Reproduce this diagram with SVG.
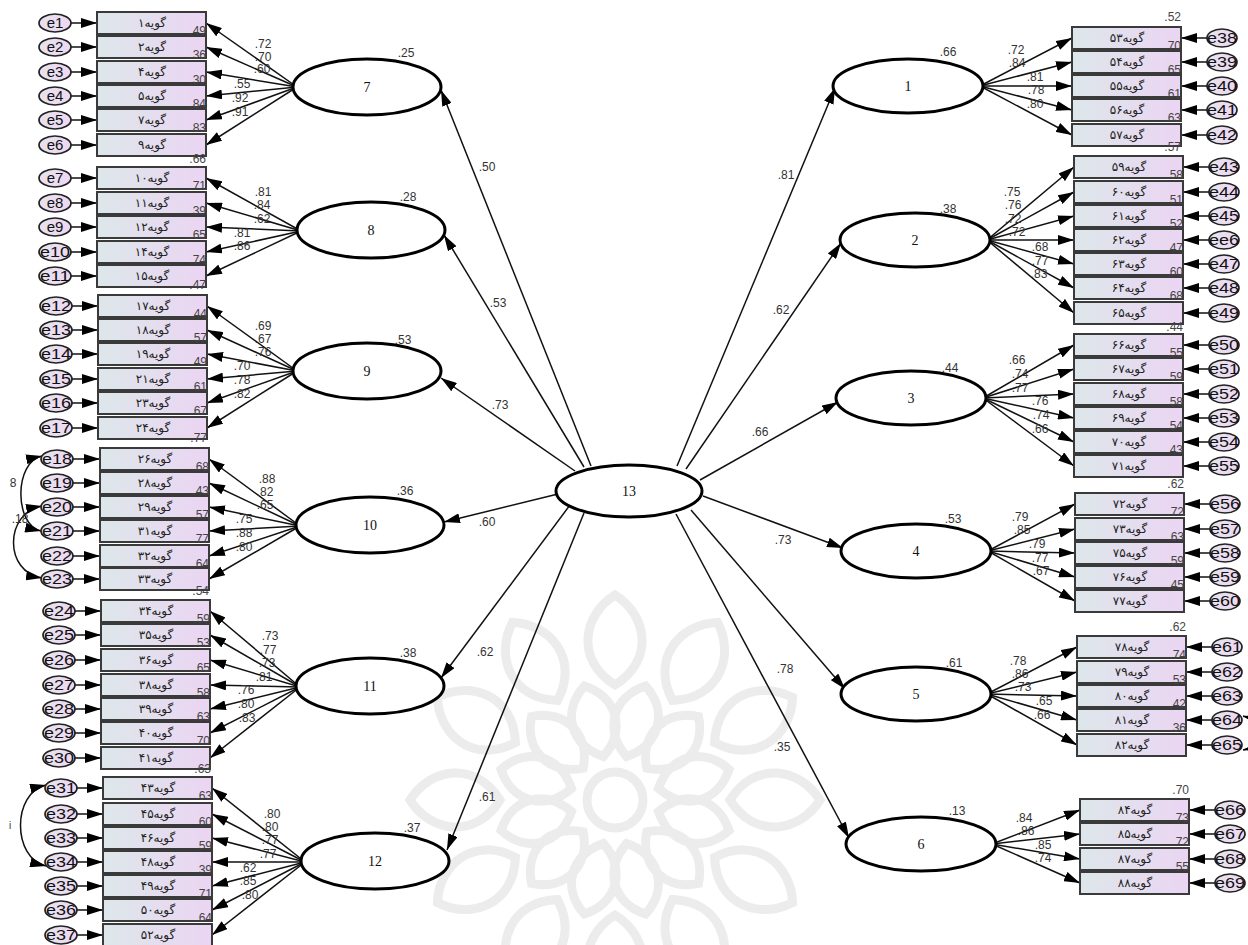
<svg xmlns="http://www.w3.org/2000/svg" xmlns:xlink="http://www.w3.org/1999/xlink" width="1248" height="945" viewBox="0 0 1248 945">
<style>
.box{fill:url(#gb);stroke:#3a3a3a;stroke-width:2}
.err{fill:url(#ge);stroke:#222;stroke-width:1.7}
.lat{fill:#fff;stroke:#000;stroke-width:3}
.ln{stroke:#111;stroke-width:1.5;fill:none;marker-end:url(#ah)}
.cv{stroke:#111;stroke-width:1.5;fill:none;marker-end:url(#ah2);marker-start:url(#ah2)}
.t{font-family:"DejaVu Sans",sans-serif;font-size:12px;text-anchor:middle;fill:#222}
.n{font-family:"Liberation Sans",Arial,sans-serif;font-size:12px;text-anchor:middle;fill:#333}
.r{font-family:"Liberation Sans",Arial,sans-serif;font-size:12px;text-anchor:end;fill:#444}
.el{font-family:"Liberation Sans",Arial,sans-serif;font-size:15px;text-anchor:middle;fill:#111}
.lv{font-family:"Liberation Serif","Times New Roman",serif;font-size:14px;text-anchor:middle;fill:#111}
.wm{fill:none;stroke:#ececec;stroke-width:9}
</style>
<defs>
<linearGradient id="gb" x1="0" y1="0" x2="1" y2="0"><stop offset="0" stop-color="#dde7ea"/><stop offset="1" stop-color="#ebd5f3"/></linearGradient>
<linearGradient id="ge" x1="0" y1="0" x2="1" y2="0"><stop offset="0" stop-color="#e6e3ee"/><stop offset="1" stop-color="#eed8f2"/></linearGradient>
<marker id="ah" viewBox="0 0 16 10" refX="16" refY="5" markerWidth="16" markerHeight="10" markerUnits="userSpaceOnUse" orient="auto"><path d="M0,0 L16,5 L0,10 z" fill="#000"/></marker>
<marker id="ah2" viewBox="0 0 16 10" refX="16" refY="5" markerWidth="16" markerHeight="10" markerUnits="userSpaceOnUse" orient="auto-start-reverse"><path d="M0,0 L16,5 L0,10 z" fill="#000"/></marker>
<path id="p1" d="M0,-115 C40,-140 32,-185 0,-205 C-32,-185 -40,-140 0,-115 Z"/>
<path id="p2" d="M0,-45 C30,-65 28,-100 0,-118 C-28,-100 -30,-65 0,-45 Z"/>
</defs>
<rect width="1248" height="945" fill="#fff"/>
<g id="watermark" class="wm" transform="translate(615,800)">
<use xlink:href="#p1"/><use xlink:href="#p1" transform="rotate(30)"/><use xlink:href="#p1" transform="rotate(60)"/><use xlink:href="#p1" transform="rotate(90)"/><use xlink:href="#p1" transform="rotate(120)"/><use xlink:href="#p1" transform="rotate(150)"/><use xlink:href="#p1" transform="rotate(180)"/><use xlink:href="#p1" transform="rotate(210)"/><use xlink:href="#p1" transform="rotate(240)"/><use xlink:href="#p1" transform="rotate(270)"/><use xlink:href="#p1" transform="rotate(300)"/><use xlink:href="#p1" transform="rotate(330)"/>
<use xlink:href="#p2" transform="rotate(15)"/><use xlink:href="#p2" transform="rotate(45)"/><use xlink:href="#p2" transform="rotate(75)"/><use xlink:href="#p2" transform="rotate(105)"/><use xlink:href="#p2" transform="rotate(135)"/><use xlink:href="#p2" transform="rotate(165)"/><use xlink:href="#p2" transform="rotate(195)"/><use xlink:href="#p2" transform="rotate(225)"/><use xlink:href="#p2" transform="rotate(255)"/><use xlink:href="#p2" transform="rotate(285)"/><use xlink:href="#p2" transform="rotate(315)"/><use xlink:href="#p2" transform="rotate(345)"/>
<circle r="28"/>
</g>
<g id="connectors">
<line class="ln" x1="591" y1="466" x2="441" y2="90"/>
<line class="ln" x1="584" y1="467" x2="444" y2="235"/>
<line class="ln" x1="575" y1="471" x2="441" y2="378"/>
<line class="ln" x1="558" y1="494" x2="444" y2="522"/>
<line class="ln" x1="570" y1="505" x2="441" y2="678"/>
<line class="ln" x1="584" y1="513" x2="447" y2="850"/>
<line class="ln" x1="677" y1="466" x2="835" y2="88"/>
<line class="ln" x1="686" y1="469" x2="841" y2="243"/>
<line class="ln" x1="700" y1="480" x2="838" y2="402"/>
<line class="ln" x1="703" y1="496" x2="843" y2="548"/>
<line class="ln" x1="691" y1="510" x2="845" y2="689"/>
<line class="ln" x1="676" y1="514" x2="849" y2="838"/>
<text class="n" x="487" y="171">.50</text>
<text class="n" x="498" y="307">.53</text>
<text class="n" x="500" y="409">.73</text>
<text class="n" x="487" y="526">.60</text>
<text class="n" x="485" y="656">.62</text>
<text class="n" x="487" y="801">.61</text>
<text class="n" x="786" y="179">.81</text>
<text class="n" x="781" y="314">.62</text>
<text class="n" x="760" y="436">.66</text>
<text class="n" x="783" y="544">.73</text>
<text class="n" x="785" y="673">.78</text>
<text class="n" x="782" y="751">.35</text>
<line class="ln" x1="297" y1="87" x2="206" y2="23"/>
<line class="ln" x1="297" y1="87" x2="206" y2="47"/>
<line class="ln" x1="297" y1="87" x2="206" y2="72"/>
<line class="ln" x1="297" y1="87" x2="206" y2="96"/>
<line class="ln" x1="297" y1="87" x2="206" y2="120"/>
<line class="ln" x1="297" y1="87" x2="206" y2="145"/>
<text class="n" x="263" y="48">.72</text><text class="n" x="263" y="61">.70</text><text class="n" x="262" y="73">.60</text><text class="n" x="242" y="88">.55</text><text class="n" x="240" y="102">.92</text><text class="n" x="240" y="116">.91</text>
<line class="ln" x1="301" y1="231" x2="206" y2="178"/>
<line class="ln" x1="301" y1="231" x2="206" y2="203"/>
<line class="ln" x1="301" y1="231" x2="206" y2="227"/>
<line class="ln" x1="301" y1="231" x2="206" y2="252"/>
<line class="ln" x1="301" y1="231" x2="206" y2="276"/>
<text class="n" x="263" y="196">.81</text><text class="n" x="262" y="209">.84</text><text class="n" x="262" y="223">.62</text><text class="n" x="242" y="237">.81</text><text class="n" x="242" y="250">.86</text>
<line class="ln" x1="297" y1="371" x2="207" y2="306"/>
<line class="ln" x1="297" y1="371" x2="207" y2="330"/>
<line class="ln" x1="297" y1="371" x2="207" y2="354"/>
<line class="ln" x1="297" y1="371" x2="207" y2="379"/>
<line class="ln" x1="297" y1="371" x2="207" y2="403"/>
<line class="ln" x1="297" y1="371" x2="207" y2="428"/>
<text class="n" x="263" y="330">.69</text><text class="n" x="263" y="343">.67</text><text class="n" x="263" y="356">.76</text><text class="n" x="242" y="370">.70</text><text class="n" x="242" y="384">.78</text><text class="n" x="242" y="398">.82</text>
<line class="ln" x1="300" y1="526" x2="209" y2="459"/>
<line class="ln" x1="300" y1="526" x2="209" y2="483"/>
<line class="ln" x1="300" y1="526" x2="209" y2="507"/>
<line class="ln" x1="300" y1="526" x2="209" y2="531"/>
<line class="ln" x1="300" y1="526" x2="209" y2="556"/>
<line class="ln" x1="300" y1="526" x2="209" y2="579"/>
<text class="n" x="267" y="483">.88</text><text class="n" x="265" y="496">.82</text><text class="n" x="265" y="509">.65</text><text class="n" x="244" y="523">.75</text><text class="n" x="244" y="537">.88</text><text class="n" x="244" y="551">.80</text>
<line class="ln" x1="300" y1="687" x2="210" y2="611"/>
<line class="ln" x1="300" y1="687" x2="210" y2="635"/>
<line class="ln" x1="300" y1="687" x2="210" y2="660"/>
<line class="ln" x1="300" y1="687" x2="210" y2="685"/>
<line class="ln" x1="300" y1="687" x2="210" y2="709"/>
<line class="ln" x1="300" y1="687" x2="210" y2="733"/>
<line class="ln" x1="300" y1="687" x2="210" y2="758"/>
<text class="n" x="270" y="640">.73</text><text class="n" x="268" y="654">.77</text><text class="n" x="267" y="667">.73</text><text class="n" x="264" y="681">.81</text><text class="n" x="246" y="694">.76</text><text class="n" x="246" y="708">.80</text><text class="n" x="247" y="722">.83</text>
<line class="ln" x1="305" y1="862" x2="212" y2="788"/>
<line class="ln" x1="305" y1="862" x2="212" y2="814"/>
<line class="ln" x1="305" y1="862" x2="212" y2="838"/>
<line class="ln" x1="305" y1="862" x2="212" y2="862"/>
<line class="ln" x1="305" y1="862" x2="212" y2="886"/>
<line class="ln" x1="305" y1="862" x2="212" y2="910"/>
<line class="ln" x1="305" y1="862" x2="212" y2="935"/>
<text class="n" x="272" y="818">.80</text><text class="n" x="270" y="831">.80</text><text class="n" x="270" y="844">.77</text><text class="n" x="268" y="858">.77</text><text class="n" x="248" y="872">.62</text><text class="n" x="248" y="885">.85</text><text class="n" x="250" y="899">.80</text>
<line class="ln" x1="980" y1="86" x2="1072" y2="38"/>
<line class="ln" x1="980" y1="86" x2="1072" y2="62"/>
<line class="ln" x1="980" y1="86" x2="1072" y2="86"/>
<line class="ln" x1="980" y1="86" x2="1072" y2="110"/>
<line class="ln" x1="980" y1="86" x2="1072" y2="135"/>
<text class="n" x="1016" y="54">.72</text><text class="n" x="1017" y="67">.84</text><text class="n" x="1035" y="81">.81</text><text class="n" x="1036" y="94">.78</text><text class="n" x="1035" y="108">.80</text>
<line class="ln" x1="987" y1="240" x2="1074" y2="167"/>
<line class="ln" x1="987" y1="240" x2="1074" y2="192"/>
<line class="ln" x1="987" y1="240" x2="1074" y2="216"/>
<line class="ln" x1="987" y1="240" x2="1074" y2="240"/>
<line class="ln" x1="987" y1="240" x2="1074" y2="264"/>
<line class="ln" x1="987" y1="240" x2="1074" y2="288"/>
<line class="ln" x1="987" y1="240" x2="1074" y2="313"/>
<text class="n" x="1012" y="196">.75</text><text class="n" x="1013" y="209">.76</text><text class="n" x="1013" y="223">.72</text><text class="n" x="1017" y="236">.72</text><text class="n" x="1040" y="251">.68</text><text class="n" x="1040" y="265">.77</text><text class="n" x="1039" y="278">.83</text>
<line class="ln" x1="983" y1="398" x2="1074" y2="345"/>
<line class="ln" x1="983" y1="398" x2="1074" y2="369"/>
<line class="ln" x1="983" y1="398" x2="1074" y2="394"/>
<line class="ln" x1="983" y1="398" x2="1074" y2="418"/>
<line class="ln" x1="983" y1="398" x2="1074" y2="442"/>
<line class="ln" x1="983" y1="398" x2="1074" y2="466"/>
<text class="n" x="1017" y="364">.66</text><text class="n" x="1020" y="378">.74</text><text class="n" x="1020" y="392">.77</text><text class="n" x="1040" y="405">.76</text><text class="n" x="1041" y="419">.74</text><text class="n" x="1040" y="433">.66</text>
<line class="ln" x1="988" y1="551" x2="1075" y2="504"/>
<line class="ln" x1="988" y1="551" x2="1075" y2="529"/>
<line class="ln" x1="988" y1="551" x2="1075" y2="553"/>
<line class="ln" x1="988" y1="551" x2="1075" y2="577"/>
<line class="ln" x1="988" y1="551" x2="1075" y2="601"/>
<text class="n" x="1020" y="521">.79</text><text class="n" x="1022" y="534">.85</text><text class="n" x="1037" y="548">.79</text><text class="n" x="1040" y="562">.77</text><text class="n" x="1041" y="575">.67</text>
<line class="ln" x1="987" y1="694" x2="1077" y2="647"/>
<line class="ln" x1="987" y1="694" x2="1077" y2="672"/>
<line class="ln" x1="987" y1="694" x2="1077" y2="696"/>
<line class="ln" x1="987" y1="694" x2="1077" y2="720"/>
<line class="ln" x1="987" y1="694" x2="1077" y2="745"/>
<text class="n" x="1018" y="665">.78</text><text class="n" x="1020" y="678">.86</text><text class="n" x="1023" y="691">.73</text><text class="n" x="1044" y="705">.65</text><text class="n" x="1042" y="719">.66</text>
<line class="ln" x1="992" y1="844" x2="1080" y2="810"/>
<line class="ln" x1="992" y1="844" x2="1080" y2="834"/>
<line class="ln" x1="992" y1="844" x2="1080" y2="859"/>
<line class="ln" x1="992" y1="844" x2="1080" y2="883"/>
<text class="n" x="1024" y="822">.84</text><text class="n" x="1026" y="835">.86</text><text class="n" x="1043" y="849">.85</text><text class="n" x="1043" y="862">.74</text>
<line class="ln" x1="71" y1="23" x2="97" y2="23"/><line class="ln" x1="71" y1="47" x2="97" y2="47"/><line class="ln" x1="71" y1="72" x2="97" y2="72"/><line class="ln" x1="71" y1="96" x2="97" y2="96"/><line class="ln" x1="71" y1="120" x2="97" y2="120"/><line class="ln" x1="71" y1="145" x2="97" y2="145"/>
<line class="ln" x1="71" y1="178" x2="97" y2="178"/><line class="ln" x1="71" y1="203" x2="97" y2="203"/><line class="ln" x1="71" y1="227" x2="97" y2="227"/><line class="ln" x1="71" y1="252" x2="97" y2="252"/><line class="ln" x1="71" y1="276" x2="97" y2="276"/>
<line class="ln" x1="72" y1="306" x2="98" y2="306"/><line class="ln" x1="72" y1="330" x2="98" y2="330"/><line class="ln" x1="72" y1="354" x2="98" y2="354"/><line class="ln" x1="72" y1="379" x2="98" y2="379"/><line class="ln" x1="72" y1="403" x2="98" y2="403"/><line class="ln" x1="72" y1="428" x2="98" y2="428"/>
<line class="ln" x1="73" y1="459" x2="100" y2="459"/><line class="ln" x1="73" y1="483" x2="100" y2="483"/><line class="ln" x1="73" y1="507" x2="100" y2="507"/><line class="ln" x1="73" y1="531" x2="100" y2="531"/><line class="ln" x1="73" y1="556" x2="100" y2="556"/><line class="ln" x1="73" y1="579" x2="100" y2="579"/>
<line class="ln" x1="75" y1="611" x2="101" y2="611"/><line class="ln" x1="75" y1="635" x2="101" y2="635"/><line class="ln" x1="75" y1="660" x2="101" y2="660"/><line class="ln" x1="75" y1="685" x2="101" y2="685"/><line class="ln" x1="75" y1="709" x2="101" y2="709"/><line class="ln" x1="75" y1="733" x2="101" y2="733"/><line class="ln" x1="75" y1="758" x2="101" y2="758"/>
<line class="ln" x1="77" y1="788" x2="103" y2="788"/><line class="ln" x1="77" y1="814" x2="103" y2="814"/><line class="ln" x1="77" y1="838" x2="103" y2="838"/><line class="ln" x1="77" y1="862" x2="103" y2="862"/><line class="ln" x1="77" y1="886" x2="103" y2="886"/><line class="ln" x1="77" y1="910" x2="103" y2="910"/><line class="ln" x1="77" y1="935" x2="103" y2="935"/>
<line class="ln" x1="1207" y1="38" x2="1181" y2="38"/><line class="ln" x1="1207" y1="62" x2="1181" y2="62"/><line class="ln" x1="1207" y1="86" x2="1181" y2="86"/><line class="ln" x1="1207" y1="110" x2="1181" y2="110"/><line class="ln" x1="1207" y1="135" x2="1181" y2="135"/>
<line class="ln" x1="1209" y1="167" x2="1183" y2="167"/><line class="ln" x1="1209" y1="192" x2="1183" y2="192"/><line class="ln" x1="1209" y1="216" x2="1183" y2="216"/><line class="ln" x1="1209" y1="240" x2="1183" y2="240"/><line class="ln" x1="1209" y1="264" x2="1183" y2="264"/><line class="ln" x1="1209" y1="288" x2="1183" y2="288"/><line class="ln" x1="1209" y1="313" x2="1183" y2="313"/>
<line class="ln" x1="1209" y1="345" x2="1183" y2="345"/><line class="ln" x1="1209" y1="369" x2="1183" y2="369"/><line class="ln" x1="1209" y1="394" x2="1183" y2="394"/><line class="ln" x1="1209" y1="418" x2="1183" y2="418"/><line class="ln" x1="1209" y1="442" x2="1183" y2="442"/><line class="ln" x1="1209" y1="466" x2="1183" y2="466"/>
<line class="ln" x1="1210" y1="504" x2="1184" y2="504"/><line class="ln" x1="1210" y1="529" x2="1184" y2="529"/><line class="ln" x1="1210" y1="553" x2="1184" y2="553"/><line class="ln" x1="1210" y1="577" x2="1184" y2="577"/><line class="ln" x1="1210" y1="601" x2="1184" y2="601"/>
<line class="ln" x1="1212" y1="647" x2="1186" y2="647"/><line class="ln" x1="1212" y1="672" x2="1186" y2="672"/><line class="ln" x1="1212" y1="696" x2="1186" y2="696"/><line class="ln" x1="1212" y1="720" x2="1186" y2="720"/><line class="ln" x1="1212" y1="745" x2="1186" y2="745"/>
<line class="ln" x1="1215" y1="810" x2="1189" y2="810"/><line class="ln" x1="1215" y1="834" x2="1189" y2="834"/><line class="ln" x1="1215" y1="859" x2="1189" y2="859"/><line class="ln" x1="1215" y1="883" x2="1189" y2="883"/>
<path class="cv" d="M42,456 C14,462 14,525 41,531"/>
<path class="cv" d="M42,506 C4,513 4,572 42,578"/>
<path class="cv" d="M46,785 C12,793 12,858 46,866"/>
<path class="cv" d="M1243,716 C1262,721 1262,746 1243,750"/>
<text class="n" x="13" y="487">8</text>
<text class="n" x="20" y="523">.18</text>
<text class="n" x="10" y="829" style="font-size:10px">i</text>
</g>
<g id="latents">
<g id="L13"><ellipse class="lat" cx="629" cy="491" rx="73" ry="26"/><text class="lv" x="629" y="496">13</text></g>
<g id="L7"><ellipse class="lat" cx="367" cy="87" rx="74" ry="28"/><text class="lv" x="367" y="92">7</text><text class="n" x="406" y="57">.25</text></g>
<g id="L8"><ellipse class="lat" cx="371" cy="230" rx="74" ry="28"/><text class="lv" x="371" y="235">8</text><text class="n" x="408" y="201">.28</text></g>
<g id="L9"><ellipse class="lat" cx="367" cy="371" rx="74" ry="28"/><text class="lv" x="367" y="376">9</text><text class="n" x="403" y="344">.53</text></g>
<g id="L10"><ellipse class="lat" cx="370" cy="525" rx="74" ry="28"/><text class="lv" x="370" y="530">10</text><text class="n" x="405" y="495">.36</text></g>
<g id="L11"><ellipse class="lat" cx="370" cy="686" rx="74" ry="28"/><text class="lv" x="370" y="691">11</text><text class="n" x="408" y="657">.38</text></g>
<g id="L12"><ellipse class="lat" cx="375" cy="861" rx="74" ry="28"/><text class="lv" x="375" y="866">12</text><text class="n" x="412" y="832">.37</text></g>
<g id="L1"><ellipse class="lat" cx="908" cy="86" rx="75" ry="27"/><text class="lv" x="908" y="91">1</text><text class="n" x="948" y="56">.66</text></g>
<g id="L2"><ellipse class="lat" cx="915" cy="240" rx="75" ry="27"/><text class="lv" x="915" y="245">2</text><text class="n" x="948" y="213">.38</text></g>
<g id="L3"><ellipse class="lat" cx="911" cy="398" rx="75" ry="27"/><text class="lv" x="911" y="403">3</text><text class="n" x="950" y="372">.44</text></g>
<g id="L4"><ellipse class="lat" cx="916" cy="551" rx="75" ry="27"/><text class="lv" x="916" y="556">4</text><text class="n" x="953" y="523">.53</text></g>
<g id="L5"><ellipse class="lat" cx="916" cy="694" rx="75" ry="27"/><text class="lv" x="916" y="699">5</text><text class="n" x="954" y="667">.61</text></g>
<g id="L6"><ellipse class="lat" cx="921" cy="844" rx="75" ry="27"/><text class="lv" x="921" y="849">6</text><text class="n" x="957" y="815">.13</text></g>
</g>
<g id="indicators">
<g id="i1"><rect class="box" x="97" y="12" width="109" height="22"/><text class="t" x="152" y="27">گویه۱</text><text class="r" x="206" y="35">.49</text></g>
<g id="i2"><rect class="box" x="97" y="36" width="109" height="22"/><text class="t" x="152" y="51">گویه۲</text><text class="r" x="206" y="59">.36</text></g>
<g id="i4"><rect class="box" x="97" y="61" width="109" height="22"/><text class="t" x="152" y="76">گویه۴</text><text class="r" x="206" y="84">.30</text></g>
<g id="i5"><rect class="box" x="97" y="85" width="109" height="22"/><text class="t" x="152" y="100">گویه۵</text><text class="r" x="206" y="108">.84</text></g>
<g id="i7"><rect class="box" x="97" y="109" width="109" height="22"/><text class="t" x="152" y="124">گویه۷</text><text class="r" x="206" y="132">.83</text></g>
<g id="i9"><rect class="box" x="97" y="134" width="109" height="22"/><text class="t" x="152" y="149">گویه۹</text><text class="r" x="206" y="163">.66</text></g>
<g id="i10"><rect class="box" x="97" y="167" width="109" height="22"/><text class="t" x="152" y="182">گویه۱۰</text><text class="r" x="206" y="190">.71</text></g>
<g id="i11"><rect class="box" x="97" y="192" width="109" height="22"/><text class="t" x="152" y="207">گویه۱۱</text><text class="r" x="206" y="215">.39</text></g>
<g id="i12"><rect class="box" x="97" y="216" width="109" height="22"/><text class="t" x="152" y="231">گویه۱۲</text><text class="r" x="206" y="239">.65</text></g>
<g id="i14"><rect class="box" x="97" y="241" width="109" height="22"/><text class="t" x="152" y="256">گویه۱۴</text><text class="r" x="206" y="264">.74</text></g>
<g id="i15"><rect class="box" x="97" y="265" width="109" height="22"/><text class="t" x="152" y="280">گویه۱۵</text><text class="r" x="206" y="289">.47</text></g>
<g id="i17"><rect class="box" x="98" y="295" width="109" height="22"/><text class="t" x="153" y="310">گویه۱۷</text><text class="r" x="207" y="318">.44</text></g>
<g id="i18"><rect class="box" x="98" y="319" width="109" height="22"/><text class="t" x="153" y="334">گویه۱۸</text><text class="r" x="207" y="342">.57</text></g>
<g id="i19"><rect class="box" x="98" y="343" width="109" height="22"/><text class="t" x="153" y="358">گویه۱۹</text><text class="r" x="207" y="366">.49</text></g>
<g id="i21"><rect class="box" x="98" y="368" width="109" height="22"/><text class="t" x="153" y="383">گویه۲۱</text><text class="r" x="207" y="391">.61</text></g>
<g id="i23"><rect class="box" x="98" y="392" width="109" height="22"/><text class="t" x="153" y="407">گویه۲۳</text><text class="r" x="207" y="415">.67</text></g>
<g id="i24"><rect class="box" x="98" y="417" width="109" height="22"/><text class="t" x="153" y="432">گویه۲۴</text><text class="r" x="207" y="442">.77</text></g>
<g id="i26"><rect class="box" x="100" y="448" width="109" height="22"/><text class="t" x="155" y="463">گویه۲۶</text><text class="r" x="209" y="471">.68</text></g>
<g id="i28"><rect class="box" x="100" y="472" width="109" height="22"/><text class="t" x="155" y="487">گویه۲۸</text><text class="r" x="209" y="495">.43</text></g>
<g id="i29"><rect class="box" x="100" y="496" width="109" height="22"/><text class="t" x="155" y="511">گویه۲۹</text><text class="r" x="209" y="519">.57</text></g>
<g id="i31"><rect class="box" x="100" y="520" width="109" height="22"/><text class="t" x="155" y="535">گویه۳۱</text><text class="r" x="209" y="543">.77</text></g>
<g id="i32"><rect class="box" x="100" y="545" width="109" height="22"/><text class="t" x="155" y="560">گویه۳۲</text><text class="r" x="209" y="568">.64</text></g>
<g id="i33"><rect class="box" x="100" y="568" width="109" height="22"/><text class="t" x="155" y="583">گویه۳۳</text><text class="r" x="209" y="595">.54</text></g>
<g id="i34"><rect class="box" x="101" y="600" width="109" height="22"/><text class="t" x="156" y="615">گویه۳۴</text><text class="r" x="210" y="623">.59</text></g>
<g id="i35"><rect class="box" x="101" y="624" width="109" height="22"/><text class="t" x="156" y="639">گویه۳۵</text><text class="r" x="210" y="647">.53</text></g>
<g id="i36"><rect class="box" x="101" y="649" width="109" height="22"/><text class="t" x="156" y="664">گویه۳۶</text><text class="r" x="210" y="672">.65</text></g>
<g id="i38"><rect class="box" x="101" y="674" width="109" height="22"/><text class="t" x="156" y="689">گویه۳۸</text><text class="r" x="210" y="697">.58</text></g>
<g id="i39"><rect class="box" x="101" y="698" width="109" height="22"/><text class="t" x="156" y="713">گویه۳۹</text><text class="r" x="210" y="721">.63</text></g>
<g id="i40"><rect class="box" x="101" y="722" width="109" height="22"/><text class="t" x="156" y="737">گویه۴۰</text><text class="r" x="210" y="745">.70</text></g>
<g id="i41"><rect class="box" x="101" y="747" width="109" height="22"/><text class="t" x="156" y="762">گویه۴۱</text><text class="r" x="211" y="773">.63</text></g>
<g id="i43"><rect class="box" x="103" y="777" width="109" height="22"/><text class="t" x="158" y="792">گویه۴۳</text><text class="r" x="212" y="800">.63</text></g>
<g id="i45"><rect class="box" x="103" y="803" width="109" height="22"/><text class="t" x="158" y="818">گویه۴۵</text><text class="r" x="212" y="826">.60</text></g>
<g id="i46"><rect class="box" x="103" y="827" width="109" height="22"/><text class="t" x="158" y="842">گویه۴۶</text><text class="r" x="212" y="850">.59</text></g>
<g id="i48"><rect class="box" x="103" y="851" width="109" height="22"/><text class="t" x="158" y="866">گویه۴۸</text><text class="r" x="212" y="874">.39</text></g>
<g id="i49"><rect class="box" x="103" y="875" width="109" height="22"/><text class="t" x="158" y="890">گویه۴۹</text><text class="r" x="212" y="898">.71</text></g>
<g id="i50"><rect class="box" x="103" y="899" width="109" height="22"/><text class="t" x="158" y="914">گویه۵۰</text><text class="r" x="212" y="922">.64</text></g>
<g id="i52"><rect class="box" x="103" y="924" width="109" height="22"/><text class="t" x="158" y="939">گویه۵۲</text></g>
<g id="i53"><rect class="box" x="1072" y="27" width="109" height="22"/><text class="t" x="1127" y="42">گویه۵۳</text><text class="r" x="1181" y="50">.70</text><text class="r" x="1181" y="21">.52</text></g>
<g id="i54"><rect class="box" x="1072" y="51" width="109" height="22"/><text class="t" x="1127" y="66">گویه۵۴</text><text class="r" x="1181" y="74">.65</text></g>
<g id="i55"><rect class="box" x="1072" y="75" width="109" height="22"/><text class="t" x="1127" y="90">گویه۵۵</text><text class="r" x="1181" y="98">.61</text></g>
<g id="i56"><rect class="box" x="1072" y="99" width="109" height="22"/><text class="t" x="1127" y="114">گویه۵۶</text><text class="r" x="1181" y="122">.63</text></g>
<g id="i57"><rect class="box" x="1072" y="124" width="109" height="22"/><text class="t" x="1127" y="139">گویه۵۷</text><text class="r" x="1181" y="151">.57</text></g>
<g id="i59"><rect class="box" x="1074" y="156" width="109" height="22"/><text class="t" x="1129" y="171">گویه۵۹</text><text class="r" x="1183" y="179">.58</text></g>
<g id="i60"><rect class="box" x="1074" y="181" width="109" height="22"/><text class="t" x="1129" y="196">گویه۶۰</text><text class="r" x="1183" y="204">.51</text></g>
<g id="i61"><rect class="box" x="1074" y="205" width="109" height="22"/><text class="t" x="1129" y="220">گویه۶۱</text><text class="r" x="1183" y="228">.52</text></g>
<g id="i62"><rect class="box" x="1074" y="229" width="109" height="22"/><text class="t" x="1129" y="244">گویه۶۲</text><text class="r" x="1183" y="252">.47</text></g>
<g id="i63"><rect class="box" x="1074" y="253" width="109" height="22"/><text class="t" x="1129" y="268">گویه۶۳</text><text class="r" x="1183" y="276">.60</text></g>
<g id="i64"><rect class="box" x="1074" y="277" width="109" height="22"/><text class="t" x="1129" y="292">گویه۶۴</text><text class="r" x="1183" y="300">.68</text></g>
<g id="i65"><rect class="box" x="1074" y="302" width="109" height="22"/><text class="t" x="1129" y="317">گویه۶۵</text><text class="r" x="1183" y="331">.44</text></g>
<g id="i66"><rect class="box" x="1074" y="334" width="109" height="22"/><text class="t" x="1129" y="349">گویه۶۶</text><text class="r" x="1183" y="357">.55</text></g>
<g id="i67"><rect class="box" x="1074" y="358" width="109" height="22"/><text class="t" x="1129" y="373">گویه۶۷</text><text class="r" x="1183" y="381">.59</text></g>
<g id="i68"><rect class="box" x="1074" y="383" width="109" height="22"/><text class="t" x="1129" y="398">گویه۶۸</text><text class="r" x="1183" y="406">.58</text></g>
<g id="i69"><rect class="box" x="1074" y="407" width="109" height="22"/><text class="t" x="1129" y="422">گویه۶۹</text><text class="r" x="1183" y="430">.54</text></g>
<g id="i70"><rect class="box" x="1074" y="431" width="109" height="22"/><text class="t" x="1129" y="446">گویه۷۰</text><text class="r" x="1183" y="454">.43</text></g>
<g id="i71"><rect class="box" x="1074" y="455" width="109" height="22"/><text class="t" x="1129" y="470">گویه۷۱</text><text class="r" x="1184" y="488">.62</text></g>
<g id="i72"><rect class="box" x="1075" y="493" width="109" height="22"/><text class="t" x="1130" y="508">گویه۷۲</text><text class="r" x="1184" y="516">.72</text></g>
<g id="i73"><rect class="box" x="1075" y="518" width="109" height="22"/><text class="t" x="1130" y="533">گویه۷۳</text><text class="r" x="1184" y="541">.63</text></g>
<g id="i75"><rect class="box" x="1075" y="542" width="109" height="22"/><text class="t" x="1130" y="557">گویه۷۵</text><text class="r" x="1184" y="565">.59</text></g>
<g id="i76"><rect class="box" x="1075" y="566" width="109" height="22"/><text class="t" x="1130" y="581">گویه۷۶</text><text class="r" x="1184" y="589">.45</text></g>
<g id="i77"><rect class="box" x="1075" y="590" width="109" height="22"/><text class="t" x="1130" y="605">گویه۷۷</text></g>
<g id="i78"><rect class="box" x="1077" y="636" width="109" height="22"/><text class="t" x="1132" y="651">گویه۷۸</text><text class="r" x="1186" y="659">.74</text><text class="r" x="1186" y="631">.62</text></g>
<g id="i79"><rect class="box" x="1077" y="661" width="109" height="22"/><text class="t" x="1132" y="676">گویه۷۹</text><text class="r" x="1186" y="684">.53</text></g>
<g id="i80"><rect class="box" x="1077" y="685" width="109" height="22"/><text class="t" x="1132" y="700">گویه۸۰</text><text class="r" x="1186" y="708">.42</text></g>
<g id="i81"><rect class="box" x="1077" y="709" width="109" height="22"/><text class="t" x="1132" y="724">گویه۸۱</text><text class="r" x="1186" y="732">.36</text></g>
<g id="i82"><rect class="box" x="1077" y="734" width="109" height="22"/><text class="t" x="1132" y="749">گویه۸۲</text></g>
<g id="i84"><rect class="box" x="1080" y="799" width="109" height="22"/><text class="t" x="1135" y="814">گویه۸۴</text><text class="r" x="1189" y="822">.73</text><text class="r" x="1189" y="794">.70</text></g>
<g id="i85"><rect class="box" x="1080" y="823" width="109" height="22"/><text class="t" x="1135" y="838">گویه۸۵</text><text class="r" x="1189" y="846">.72</text></g>
<g id="i87"><rect class="box" x="1080" y="848" width="109" height="22"/><text class="t" x="1135" y="863">گویه۸۷</text><text class="r" x="1189" y="871">.55</text></g>
<g id="i88"><rect class="box" x="1080" y="872" width="109" height="22"/><text class="t" x="1135" y="887">گویه۸۸</text></g>
</g>
<g id="errors">
<g id="e1"><ellipse class="err" cx="55" cy="23" rx="16" ry="9"/><text class="el" x="55" y="28">e1</text></g>
<g id="e2"><ellipse class="err" cx="55" cy="47" rx="16" ry="9"/><text class="el" x="55" y="52">e2</text></g>
<g id="e3"><ellipse class="err" cx="55" cy="72" rx="16" ry="9"/><text class="el" x="55" y="77">e3</text></g>
<g id="e4"><ellipse class="err" cx="55" cy="96" rx="16" ry="9"/><text class="el" x="55" y="101">e4</text></g>
<g id="e5"><ellipse class="err" cx="55" cy="120" rx="16" ry="9"/><text class="el" x="55" y="125">e5</text></g>
<g id="e6"><ellipse class="err" cx="55" cy="145" rx="16" ry="9"/><text class="el" x="55" y="150">e6</text></g>
<g id="e7"><ellipse class="err" cx="55" cy="178" rx="16" ry="9"/><text class="el" x="55" y="183">e7</text></g>
<g id="e8"><ellipse class="err" cx="55" cy="203" rx="16" ry="9"/><text class="el" x="55" y="208">e8</text></g>
<g id="e9"><ellipse class="err" cx="55" cy="227" rx="16" ry="9"/><text class="el" x="55" y="232">e9</text></g>
<g id="e10"><ellipse class="err" cx="55" cy="252" rx="16" ry="9"/><text class="el" x="55" y="257" textLength="30" lengthAdjust="spacingAndGlyphs">e10</text></g>
<g id="e11"><ellipse class="err" cx="55" cy="276" rx="16" ry="9"/><text class="el" x="55" y="281" textLength="30" lengthAdjust="spacingAndGlyphs">e11</text></g>
<g id="e12"><ellipse class="err" cx="56" cy="306" rx="16" ry="9"/><text class="el" x="56" y="311" textLength="30" lengthAdjust="spacingAndGlyphs">e12</text></g>
<g id="e13"><ellipse class="err" cx="56" cy="330" rx="16" ry="9"/><text class="el" x="56" y="335" textLength="30" lengthAdjust="spacingAndGlyphs">e13</text></g>
<g id="e14"><ellipse class="err" cx="56" cy="354" rx="16" ry="9"/><text class="el" x="56" y="359" textLength="30" lengthAdjust="spacingAndGlyphs">e14</text></g>
<g id="e15"><ellipse class="err" cx="56" cy="379" rx="16" ry="9"/><text class="el" x="56" y="384" textLength="30" lengthAdjust="spacingAndGlyphs">e15</text></g>
<g id="e16"><ellipse class="err" cx="56" cy="403" rx="16" ry="9"/><text class="el" x="56" y="408" textLength="30" lengthAdjust="spacingAndGlyphs">e16</text></g>
<g id="e17"><ellipse class="err" cx="56" cy="428" rx="16" ry="9"/><text class="el" x="56" y="433" textLength="30" lengthAdjust="spacingAndGlyphs">e17</text></g>
<g id="e18"><ellipse class="err" cx="57" cy="459" rx="16" ry="9"/><text class="el" x="57" y="464" textLength="30" lengthAdjust="spacingAndGlyphs">e18</text></g>
<g id="e19"><ellipse class="err" cx="57" cy="483" rx="16" ry="9"/><text class="el" x="57" y="488" textLength="30" lengthAdjust="spacingAndGlyphs">e19</text></g>
<g id="e20"><ellipse class="err" cx="57" cy="507" rx="16" ry="9"/><text class="el" x="57" y="512" textLength="30" lengthAdjust="spacingAndGlyphs">e20</text></g>
<g id="e21"><ellipse class="err" cx="57" cy="531" rx="16" ry="9"/><text class="el" x="57" y="536" textLength="30" lengthAdjust="spacingAndGlyphs">e21</text></g>
<g id="e22"><ellipse class="err" cx="57" cy="556" rx="16" ry="9"/><text class="el" x="57" y="561" textLength="30" lengthAdjust="spacingAndGlyphs">e22</text></g>
<g id="e23"><ellipse class="err" cx="57" cy="579" rx="16" ry="9"/><text class="el" x="57" y="584" textLength="30" lengthAdjust="spacingAndGlyphs">e23</text></g>
<g id="e24"><ellipse class="err" cx="59" cy="611" rx="16" ry="9"/><text class="el" x="59" y="616" textLength="30" lengthAdjust="spacingAndGlyphs">e24</text></g>
<g id="e25"><ellipse class="err" cx="59" cy="635" rx="16" ry="9"/><text class="el" x="59" y="640" textLength="30" lengthAdjust="spacingAndGlyphs">e25</text></g>
<g id="e26"><ellipse class="err" cx="59" cy="660" rx="16" ry="9"/><text class="el" x="59" y="665" textLength="30" lengthAdjust="spacingAndGlyphs">e26</text></g>
<g id="e27"><ellipse class="err" cx="59" cy="685" rx="16" ry="9"/><text class="el" x="59" y="690" textLength="30" lengthAdjust="spacingAndGlyphs">e27</text></g>
<g id="e28"><ellipse class="err" cx="59" cy="709" rx="16" ry="9"/><text class="el" x="59" y="714" textLength="30" lengthAdjust="spacingAndGlyphs">e28</text></g>
<g id="e29"><ellipse class="err" cx="59" cy="733" rx="16" ry="9"/><text class="el" x="59" y="738" textLength="30" lengthAdjust="spacingAndGlyphs">e29</text></g>
<g id="e30"><ellipse class="err" cx="59" cy="758" rx="16" ry="9"/><text class="el" x="59" y="763" textLength="30" lengthAdjust="spacingAndGlyphs">e30</text></g>
<g id="e31"><ellipse class="err" cx="61" cy="788" rx="16" ry="9"/><text class="el" x="61" y="793" textLength="30" lengthAdjust="spacingAndGlyphs">e31</text></g>
<g id="e32"><ellipse class="err" cx="61" cy="814" rx="16" ry="9"/><text class="el" x="61" y="819" textLength="30" lengthAdjust="spacingAndGlyphs">e32</text></g>
<g id="e33"><ellipse class="err" cx="61" cy="838" rx="16" ry="9"/><text class="el" x="61" y="843" textLength="30" lengthAdjust="spacingAndGlyphs">e33</text></g>
<g id="e34"><ellipse class="err" cx="61" cy="862" rx="16" ry="9"/><text class="el" x="61" y="867" textLength="30" lengthAdjust="spacingAndGlyphs">e34</text></g>
<g id="e35"><ellipse class="err" cx="61" cy="886" rx="16" ry="9"/><text class="el" x="61" y="891" textLength="30" lengthAdjust="spacingAndGlyphs">e35</text></g>
<g id="e36"><ellipse class="err" cx="61" cy="910" rx="16" ry="9"/><text class="el" x="61" y="915" textLength="30" lengthAdjust="spacingAndGlyphs">e36</text></g>
<g id="e37"><ellipse class="err" cx="61" cy="935" rx="16" ry="9"/><text class="el" x="61" y="940" textLength="30" lengthAdjust="spacingAndGlyphs">e37</text></g>
<g id="e38"><ellipse class="err" cx="1222" cy="38" rx="15" ry="9"/><text class="el" x="1222" y="43" textLength="30" lengthAdjust="spacingAndGlyphs">e38</text></g>
<g id="e39"><ellipse class="err" cx="1222" cy="62" rx="15" ry="9"/><text class="el" x="1222" y="67" textLength="30" lengthAdjust="spacingAndGlyphs">e39</text></g>
<g id="e40"><ellipse class="err" cx="1222" cy="86" rx="15" ry="9"/><text class="el" x="1222" y="91" textLength="30" lengthAdjust="spacingAndGlyphs">e40</text></g>
<g id="e41"><ellipse class="err" cx="1222" cy="110" rx="15" ry="9"/><text class="el" x="1222" y="115" textLength="30" lengthAdjust="spacingAndGlyphs">e41</text></g>
<g id="e42"><ellipse class="err" cx="1222" cy="135" rx="15" ry="9"/><text class="el" x="1222" y="140" textLength="30" lengthAdjust="spacingAndGlyphs">e42</text></g>
<g id="e43"><ellipse class="err" cx="1224" cy="167" rx="15" ry="9"/><text class="el" x="1224" y="172" textLength="30" lengthAdjust="spacingAndGlyphs">e43</text></g>
<g id="e44"><ellipse class="err" cx="1224" cy="192" rx="15" ry="9"/><text class="el" x="1224" y="197" textLength="30" lengthAdjust="spacingAndGlyphs">e44</text></g>
<g id="e45"><ellipse class="err" cx="1224" cy="216" rx="15" ry="9"/><text class="el" x="1224" y="221" textLength="30" lengthAdjust="spacingAndGlyphs">e45</text></g>
<g id="ee6"><ellipse class="err" cx="1224" cy="240" rx="15" ry="9"/><text class="el" x="1224" y="245" textLength="30" lengthAdjust="spacingAndGlyphs">ee6</text></g>
<g id="e47"><ellipse class="err" cx="1224" cy="264" rx="15" ry="9"/><text class="el" x="1224" y="269" textLength="30" lengthAdjust="spacingAndGlyphs">e47</text></g>
<g id="e48"><ellipse class="err" cx="1224" cy="288" rx="15" ry="9"/><text class="el" x="1224" y="293" textLength="30" lengthAdjust="spacingAndGlyphs">e48</text></g>
<g id="e49"><ellipse class="err" cx="1224" cy="313" rx="15" ry="9"/><text class="el" x="1224" y="318" textLength="30" lengthAdjust="spacingAndGlyphs">e49</text></g>
<g id="e50"><ellipse class="err" cx="1224" cy="345" rx="15" ry="9"/><text class="el" x="1224" y="350" textLength="30" lengthAdjust="spacingAndGlyphs">e50</text></g>
<g id="e51"><ellipse class="err" cx="1224" cy="369" rx="15" ry="9"/><text class="el" x="1224" y="374" textLength="30" lengthAdjust="spacingAndGlyphs">e51</text></g>
<g id="e52"><ellipse class="err" cx="1224" cy="394" rx="15" ry="9"/><text class="el" x="1224" y="399" textLength="30" lengthAdjust="spacingAndGlyphs">e52</text></g>
<g id="e53"><ellipse class="err" cx="1224" cy="418" rx="15" ry="9"/><text class="el" x="1224" y="423" textLength="30" lengthAdjust="spacingAndGlyphs">e53</text></g>
<g id="e54"><ellipse class="err" cx="1224" cy="442" rx="15" ry="9"/><text class="el" x="1224" y="447" textLength="30" lengthAdjust="spacingAndGlyphs">e54</text></g>
<g id="e55"><ellipse class="err" cx="1224" cy="466" rx="15" ry="9"/><text class="el" x="1224" y="471" textLength="30" lengthAdjust="spacingAndGlyphs">e55</text></g>
<g id="e56"><ellipse class="err" cx="1225" cy="504" rx="15" ry="9"/><text class="el" x="1225" y="509" textLength="30" lengthAdjust="spacingAndGlyphs">e56</text></g>
<g id="e57"><ellipse class="err" cx="1225" cy="529" rx="15" ry="9"/><text class="el" x="1225" y="534" textLength="30" lengthAdjust="spacingAndGlyphs">e57</text></g>
<g id="e58"><ellipse class="err" cx="1225" cy="553" rx="15" ry="9"/><text class="el" x="1225" y="558" textLength="30" lengthAdjust="spacingAndGlyphs">e58</text></g>
<g id="e59"><ellipse class="err" cx="1225" cy="577" rx="15" ry="9"/><text class="el" x="1225" y="582" textLength="30" lengthAdjust="spacingAndGlyphs">e59</text></g>
<g id="e60"><ellipse class="err" cx="1225" cy="601" rx="15" ry="9"/><text class="el" x="1225" y="606" textLength="30" lengthAdjust="spacingAndGlyphs">e60</text></g>
<g id="e61"><ellipse class="err" cx="1227" cy="647" rx="15" ry="9"/><text class="el" x="1227" y="652" textLength="30" lengthAdjust="spacingAndGlyphs">e61</text></g>
<g id="e62"><ellipse class="err" cx="1227" cy="672" rx="15" ry="9"/><text class="el" x="1227" y="677" textLength="30" lengthAdjust="spacingAndGlyphs">e62</text></g>
<g id="e63"><ellipse class="err" cx="1227" cy="696" rx="15" ry="9"/><text class="el" x="1227" y="701" textLength="30" lengthAdjust="spacingAndGlyphs">e63</text></g>
<g id="e64"><ellipse class="err" cx="1227" cy="720" rx="15" ry="9"/><text class="el" x="1227" y="725" textLength="30" lengthAdjust="spacingAndGlyphs">e64</text></g>
<g id="e65"><ellipse class="err" cx="1227" cy="745" rx="15" ry="9"/><text class="el" x="1227" y="750" textLength="30" lengthAdjust="spacingAndGlyphs">e65</text></g>
<g id="e66"><ellipse class="err" cx="1230" cy="810" rx="15" ry="9"/><text class="el" x="1230" y="815" textLength="30" lengthAdjust="spacingAndGlyphs">e66</text></g>
<g id="e67"><ellipse class="err" cx="1230" cy="834" rx="15" ry="9"/><text class="el" x="1230" y="839" textLength="30" lengthAdjust="spacingAndGlyphs">e67</text></g>
<g id="e68"><ellipse class="err" cx="1230" cy="859" rx="15" ry="9"/><text class="el" x="1230" y="864" textLength="30" lengthAdjust="spacingAndGlyphs">e68</text></g>
<g id="e69"><ellipse class="err" cx="1230" cy="883" rx="15" ry="9"/><text class="el" x="1230" y="888" textLength="30" lengthAdjust="spacingAndGlyphs">e69</text></g>
</g>
</svg>
